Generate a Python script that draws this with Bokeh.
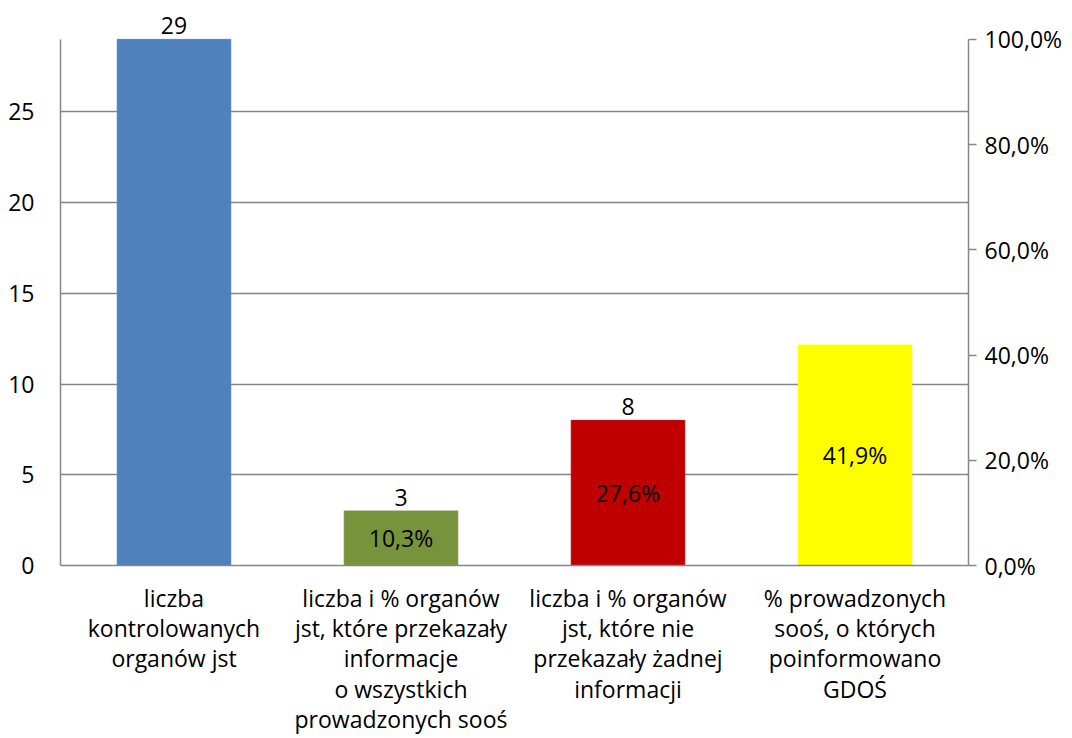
from bokeh.plotting import figure
from bokeh.models import (ColumnDataSource, Range1d, LinearAxis, FixedTicker,
                          CustomJSTickFormatter, LabelSet)
from bokeh.core.properties import value
from bokeh.embed import file_html
from bokeh.resources import INLINE

categories = [
    "liczba\nkontrolowanych\norganów jst",
    "liczba i % organów\njst, które przekazały\ninformacje\no wszystkich\nprowadzonych sooś",
    "liczba i % organów\njst, które nie\nprzekazały żadnej\ninformacji",
    "% prowadzonych\nsooś, o których\npoinformowano\nGDOŚ",
]
count_cats = categories[:3]
counts = [29, 3, 8]
count_labels = ["29", "3", "8"]
count_colors = ["#4F81BD", "#77933C", "#C00000"]

pct_cat = [categories[3]]
pct_value = [0.419]
pct_color = ["#FFFF00"]

inner_cats = [categories[1], categories[2]]
inner_counts = [3, 8]
inner_labels = ["10,3%", "27,6%"]
yellow_label = ["41,9%"]

left_ticks = [0, 5, 10, 15, 20, 25]
right_ticks = [0, 0.2, 0.4, 0.6, 0.8, 1.0]
left_max = 29
right_max = 1.0

FONT = "Open Sans"
FS = "23px"
GRAY = "#868686"

# headroom above the axes (fraction) so the top value label is not clipped
HEAD = 559 / 528

p = figure(x_range=categories, y_range=Range1d(0, left_max * HEAD), width=1072, height=738,
           output_backend="svg", toolbar_location=None,
           min_border_left=60, min_border_right=104, min_border_top=8,
           min_border_bottom=171)
p.extra_y_ranges = {"pct": Range1d(0, right_max * HEAD)}
p.outline_line_color = None
p.background_fill_color = "white"

src = ColumnDataSource(dict(x=count_cats, top=counts, color=count_colors, lab=count_labels))
p.vbar(x="x", top="top", width=0.5, color="color", source=src)

ysrc = ColumnDataSource(dict(x=pct_cat, top=pct_value, color=pct_color,
                             mid=[v / 2 for v in pct_value], lab=yellow_label))
p.vbar(x="x", top="top", width=0.5, color="color", source=ysrc, y_range_name="pct")

# value labels
p.add_layout(LabelSet(x="x", y="top", text="lab", source=src, text_align="center",
                      text_baseline="bottom", y_offset=5, text_font=value(FONT),
                      text_font_size=FS, text_color="black"))
isrc = ColumnDataSource(dict(x=inner_cats, mid=[v / 2 for v in inner_counts], lab=inner_labels))
p.add_layout(LabelSet(x="x", y="mid", text="lab", source=isrc, text_align="center",
                      text_baseline="middle", text_font=value(FONT),
                      text_font_size=FS, text_color="black"))
p.add_layout(LabelSet(x="x", y="mid", text="lab", source=ysrc, text_align="center",
                      text_baseline="middle", text_font=value(FONT), y_range_name="pct",
                      text_font_size=FS, text_color="black"))

# grid
p.xgrid.grid_line_color = None
p.ygrid.grid_line_color = GRAY
p.ygrid.grid_line_width = 1.5
p.ygrid.ticker = FixedTicker(ticks=left_ticks)

# left axis
la = p.yaxis[0]
la.ticker = FixedTicker(ticks=left_ticks)
la.bounds = (0, left_max)
la.axis_line_color = GRAY
la.axis_line_width = 1.5
la.major_tick_line_color = None
la.minor_tick_line_color = None
la.major_label_text_font = FONT
la.major_label_text_font_size = FS
la.major_label_text_color = "black"
la.major_label_standoff = 20

# right axis
ra = LinearAxis(y_range_name="pct", ticker=FixedTicker(ticks=right_ticks),
                formatter=CustomJSTickFormatter(code="return (tick*100).toFixed(1).replace('.', ',') + '%';"))
ra.bounds = (0, right_max)
ra.axis_line_color = GRAY
ra.axis_line_width = 1.5
ra.major_tick_line_color = GRAY
ra.major_tick_line_width = 1.5
ra.major_tick_in = 0
ra.major_tick_out = 8
ra.minor_tick_line_color = None
ra.major_label_text_font = FONT
ra.major_label_text_font_size = FS
ra.major_label_text_color = "black"
ra.major_label_standoff = 8
p.add_layout(ra, "right")

# x axis
xa = p.xaxis[0]
xa.axis_line_color = GRAY
xa.axis_line_width = 1.5
xa.major_tick_line_color = None
xa.minor_tick_line_color = None
xa.major_label_text_font = FONT
xa.major_label_text_font_size = FS
xa.major_label_text_color = "black"
xa.major_label_text_line_height = 0.95
xa.major_label_standoff = 10
xa.major_label_orientation = "horizontal"

open("out.html", "w").write(file_html(p, INLINE))
